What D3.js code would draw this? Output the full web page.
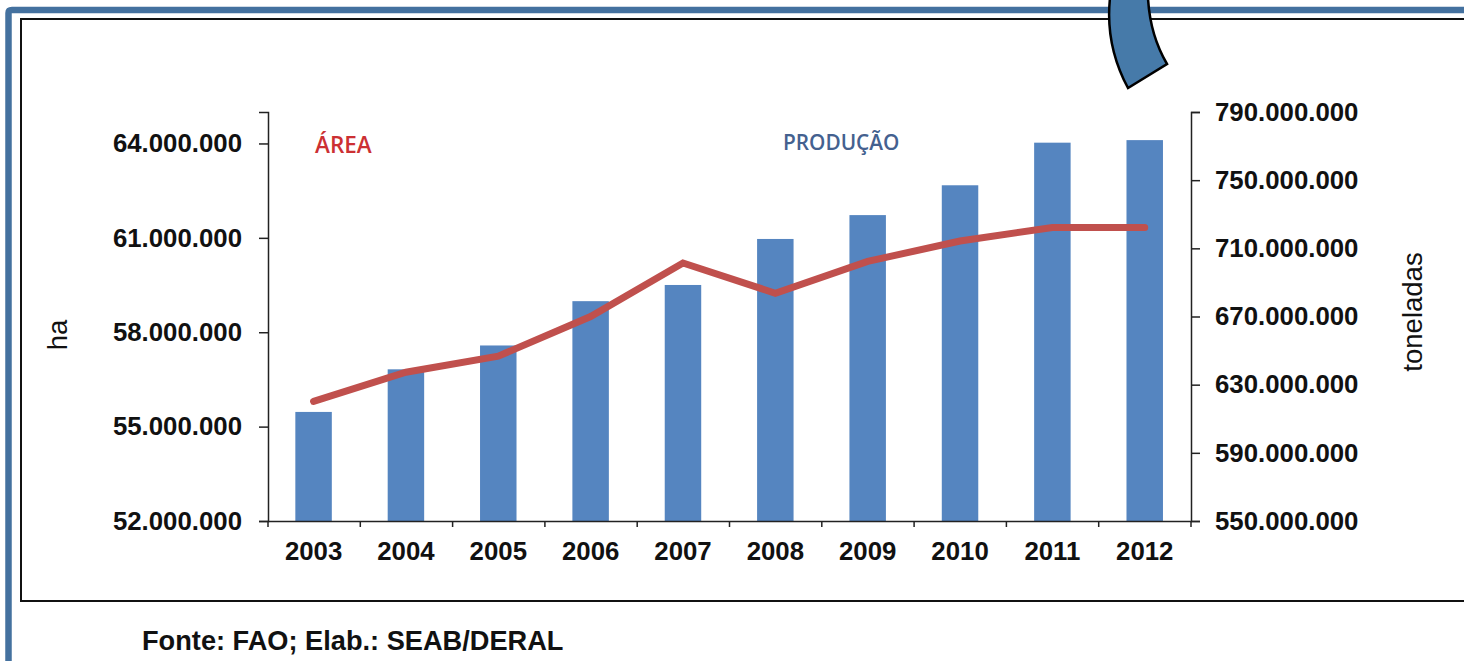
<!DOCTYPE html>
<html>
<head>
<meta charset="utf-8">
<script src="https://cdn.jsdelivr.net/npm/d3@7"></script>
<style>
  html, body { margin: 0; padding: 0; background: #fff; overflow: hidden; }
  text { font-family: "Liberation Sans", Arial, sans-serif; fill: #111; }
  .tick-label { font-size: 25.8px; font-weight: bold; }
  .axis-name { font-size: 27.5px; }
  .note { font-family: "Open Sans", sans-serif; font-weight: 600; }
</style>
</head>
<body>
<svg id="chart" width="1464" height="661"></svg>
<script>
// dados
const years = ["2003", "2004", "2005", "2006", "2007", "2008", "2009", "2010", "2011", "2012"];
const producao = [614e6, 639e6, 653e6, 679e6, 688.5e6, 715.5e6, 729.5e6, 747e6, 772e6, 773.5e6];
const area = [55.8e6, 56.73e6, 57.24e6, 58.5e6, 60.2e6, 59.24e6, 60.25e6, 60.9e6, 61.33e6, 61.33e6];
const areaTicks = [52e6, 55e6, 58e6, 61e6, 64e6];
const prodTicks = [550e6, 590e6, 630e6, 670e6, 710e6, 750e6, 790e6];

const svg = d3.select("#chart");
const blue = "#44719f";

// moldura azul e moldura preta
svg.append("path")
    .attr("d", "M8.5,661 V13 Q8.5,10 12,10 H1464")
    .attr("fill", "none")
    .attr("stroke", blue)
    .attr("stroke-width", 6.5);
svg.append("path")
    .attr("d", "M1464,19 H21 V601 H1464")
    .attr("fill", "none")
    .attr("stroke", "#111")
    .attr("stroke-width", 2);

const margin = { left: 268, right: 1191, top: 112, bottom: 521 };

// barras um pouco deslocadas em relacao aos ticks, como no original
const x = d3.scaleBand().domain(years).range([margin.left - 0.6, margin.right - 0.1]).paddingInner(0.605).paddingOuter(0.3025);
const yArea = d3.scaleLinear().domain([52e6, 65e6]).range([margin.bottom, margin.top]);
const yProd = d3.scaleLinear().domain([550e6, 790e6]).range([margin.bottom, margin.top]);

// formato brasileiro com pontos
const fmt = v => d3.format(",")(v).replace(/,/g, ".");

svg.selectAll(".bar")
    .data(years)
    .enter()
    .append("rect")
    .attr("class", "bar")
    .attr("x", d => x(d))
    .attr("width", x.bandwidth())
    .attr("y", (d, i) => yProd(producao[i]))
    .attr("height", (d, i) => yProd(550e6) - yProd(producao[i]))
    .attr("fill", "#5585c0");

const line = d3.line()
    .x((d, i) => x(years[i]) + x.bandwidth() / 2)
    .y(d => yArea(d));

svg.append("path")
    .datum(area)
    .attr("d", line)
    .attr("fill", "none")
    .attr("stroke", "#c0504d")
    .attr("stroke-width", 7)
    .attr("stroke-linecap", "round");

// eixo esquerdo
const leftAxis = svg.append("g")
    .attr("transform", `translate(${margin.left},0)`)
    .call(d3.axisLeft(yArea).tickValues(areaTicks).tickFormat(fmt).tickSize(9).tickPadding(17));

// eixo direito
const rightAxis = svg.append("g")
    .attr("transform", `translate(${margin.right},0)`)
    .call(d3.axisRight(yProd).tickValues(prodTicks).tickFormat(fmt).tickSize(9).tickPadding(15));

// eixo x com marcas entre as categorias
const xAxis = svg.append("g")
    .attr("transform", `translate(0,${margin.bottom})`)
    .call(d3.axisBottom(x).tickSize(0).tickPadding(21));

xAxis.selectAll(".sep")
    .data(d3.range(years.length + 1))
    .enter()
    .append("line")
    .attr("class", "sep")
    .attr("x1", i => margin.left + i * (margin.right - margin.left) / years.length)
    .attr("x2", i => margin.left + i * (margin.right - margin.left) / years.length)
    .attr("y1", 0)
    .attr("y2", 6)
    .attr("stroke", "#222")
    .attr("stroke-width", 1.5);

[leftAxis, rightAxis, xAxis].forEach(g => {
    g.selectAll("text").attr("class", "tick-label").attr("fill", "#111");
    g.selectAll(".domain").attr("stroke", "#222").attr("stroke-width", 1.5);
    g.selectAll(".tick line").attr("stroke", "#222").attr("stroke-width", 1.5);
    g.attr("font-family", null).attr("font-size", null);
});

svg.append("text")
    .attr("class", "axis-name")
    .attr("transform", "translate(67,335) rotate(-90)")
    .attr("text-anchor", "middle")
    .text("ha");

svg.append("text")
    .attr("class", "axis-name")
    .attr("transform", "translate(1422,312) rotate(-90)")
    .attr("text-anchor", "middle")
    .text("toneladas");

svg.append("text")
    .attr("class", "note")
    .attr("x", 315)
    .attr("y", 153)
    .style("font-size", "22.5px")
    .style("fill", "#cc3033")
    .text("ÁREA");

svg.append("text")
    .attr("class", "note")
    .attr("x", 783)
    .attr("y", 150)
    .style("font-size", "20.8px")
    .style("fill", "#44618f")
    .text("PRODUÇÃO");

svg.append("text")
    .attr("x", 142)
    .attr("y", 650)
    .style("font-size", "27.2px")
    .style("font-weight", "bold")
    .text("Fonte: FAO; Elab.: SEAB/DERAL");

// seta curva que vem do slide
svg.append("path")
    .attr("d", "M1110,-2 Q1105,45 1128,88 L1167,64 Q1150,35 1148,-2 Z")
    .attr("fill", "#467aa9")
    .attr("stroke", "#000")
    .attr("stroke-width", 2.5);
</script>
</body>
</html>
